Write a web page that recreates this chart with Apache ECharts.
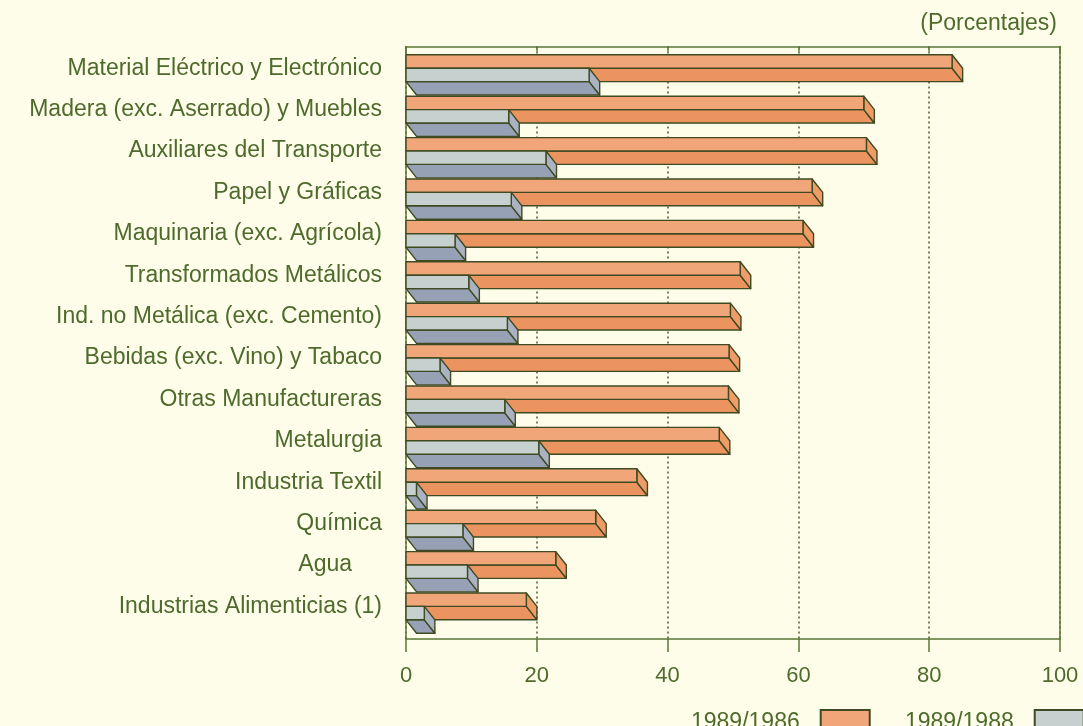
<!DOCTYPE html>
<html>
<head>
<meta charset="utf-8">
<script src="https://cdn.jsdelivr.net/npm/echarts@6/dist/echarts.min.js"></script>
<style>
html,body{margin:0;padding:0;background:#fdfde9;}
#chart{width:1083px;height:726px;}
</style>
</head>
<body>
<div id="chart"></div>
<script>
const categories = [
  'Material Eléctrico y Electrónico',
  'Madera (exc. Aserrado) y Muebles',
  'Auxiliares del Transporte',
  'Papel y Gráficas',
  'Maquinaria (exc. Agrícola)',
  'Transformados Metálicos',
  'Ind. no Metálica (exc. Cemento)',
  'Bebidas (exc. Vino) y Tabaco',
  'Otras Manufactureras',
  'Metalurgia',
  'Industria Textil',
  'Química',
  'Agua',
  'Industrias Alimenticias (1)'
];
const seriesNames = ['1989/1986', '1989/1988'];
const v1989_1986 = [83.5, 70.0, 70.4, 62.1, 60.7, 51.1, 49.6, 49.4, 49.3, 47.9, 35.3, 29.0, 22.9, 18.4];
const v1989_1988 = [28.0, 15.7, 21.4, 16.1, 7.5, 9.6, 15.5, 5.2, 15.1, 20.3, 1.6, 8.7, 9.4, 2.8];
const xMin = 0, xMax = 100, xStep = 20;

const FONT = 'Liberation Sans, Arial, sans-serif';
const TEXT = '#4e6a2c';
const AXIS = '#5b7636';
const EDGE = '#3f4a22';

const palettes = [
  { front: '#f0a678', bottom: '#eb945f', side: '#ee9c68' },
  { front: '#c6d0ce', bottom: '#97a1b6', side: '#abb3c2' }
];

function boxRenderer(pal, offset) {
  return function (params, api) {
    const val = api.value(0), idx = api.value(1);
    const base = api.coord([0, idx]);
    const end = api.coord([val, idx]);
    const band = api.size([0, 1])[1];
    const h = band * 0.324;
    const dx = band * 0.255;
    const x0 = base[0], x1 = end[0];
    const yt = base[1] + offset * h;
    const yb = yt + h, yz = yb + h;
    const st = { stroke: EDGE, lineWidth: 1.4, lineJoin: 'round' };
    return {
      type: 'group',
      children: [
        { type: 'polygon', shape: { points: [[x0, yb], [x1, yb], [x1 + dx, yz], [x0 + dx, yz]] },
          style: Object.assign({ fill: pal.bottom }, st) },
        { type: 'polygon', shape: { points: [[x1, yt], [x1 + dx, yb], [x1 + dx, yz], [x1, yb]] },
          style: Object.assign({ fill: pal.side }, st) },
        { type: 'rect', shape: { x: x0, y: yt, width: x1 - x0, height: h },
          style: Object.assign({ fill: pal.front }, st) }
      ]
    };
  };
}

function legendFor(name, left) {
  return {
    data: [name],
    left: left, top: 704,
    align: 'right',
    icon: 'rect',
    itemWidth: 49, itemHeight: 26,
    textStyle: { color: TEXT, fontSize: 23, padding: [0, 16, 8, 0], fontFamily: FONT }
  };
}

const chart = echarts.init(document.getElementById('chart'), null, { renderer: 'canvas' });
const gridLeft = 406, gridRight = 23;
chart.setOption({
  backgroundColor: '#fdfde9',
  animation: false,
  textStyle: { fontFamily: FONT },
  graphic: [{
    type: 'text', right: 26, top: 12,
    style: { text: '(Porcentajes)', fill: TEXT, fontSize: 23, fontFamily: FONT }
  }],
  legend: [legendFor(seriesNames[0], 686), legendFor(seriesNames[1], 900)],
  grid: [
    { left: gridLeft, right: gridRight, top: 46.5, bottom: 87 },
    { left: gridLeft, right: gridRight, top: 47.5, height: 579.6 }
  ],
  xAxis: [
    {
      gridIndex: 0, type: 'value', min: xMin, max: xMax, interval: xStep, position: 'bottom',
      axisLine: { show: true, onZero: false, lineStyle: { color: AXIS, width: 1.5 } },
      axisTick: { show: true, length: 13, lineStyle: { color: AXIS, width: 1.5 } },
      axisLabel: { color: TEXT, fontSize: 22, margin: 26 },
      splitLine: { show: true, lineStyle: { color: '#56633a', width: 1.6, type: [2, 3] } }
    },
    {
      gridIndex: 0, type: 'value', min: xMin, max: xMax, interval: xStep, position: 'top',
      axisLine: { show: true, onZero: false, lineStyle: { color: AXIS, width: 1.5 } },
      axisTick: { show: true, inside: true, length: 5, lineStyle: { color: AXIS, width: 1.5 } },
      axisLabel: { show: false },
      splitLine: { show: false }
    },
    {
      gridIndex: 1, type: 'value', min: xMin, max: xMax, show: false
    }
  ],
  yAxis: [
    {
      gridIndex: 0, type: 'value', min: 0, max: 1, position: 'left',
      axisLine: { show: true, onZero: false, lineStyle: { color: AXIS, width: 1.5 } },
      axisTick: { show: false }, axisLabel: { show: false }, splitLine: { show: false }
    },
    {
      gridIndex: 0, type: 'value', min: 0, max: 1, position: 'right',
      axisLine: { show: true, onZero: false, lineStyle: { color: AXIS, width: 1.5 } },
      axisTick: { show: false }, axisLabel: { show: false }, splitLine: { show: false }
    },
    {
      gridIndex: 1, type: 'category', inverse: true, data: categories,
      axisLine: { show: false }, axisTick: { show: false }, splitLine: { show: false },
      axisLabel: {
        color: TEXT, fontSize: 23, margin: 24, interval: 0,
        formatter: function (v) { return v === 'Agua' ? '{pad|' + v + '}' : v; },
        rich: { pad: { color: TEXT, fontSize: 23, padding: [0, 30, 0, 0] } }
      }
    }
  ],
  series: [
    {
      name: seriesNames[0], type: 'custom', xAxisIndex: 2, yAxisIndex: 2,
      itemStyle: { color: palettes[0].front, borderColor: EDGE, borderWidth: 1.4 },
      renderItem: boxRenderer(palettes[0], -1),
      encode: { x: 0, y: 1 },
      data: v1989_1986.map((v, i) => [v, i])
    },
    {
      name: seriesNames[1], type: 'custom', xAxisIndex: 2, yAxisIndex: 2,
      itemStyle: { color: palettes[1].front, borderColor: EDGE, borderWidth: 1.4 },
      renderItem: boxRenderer(palettes[1], 0),
      encode: { x: 0, y: 1 },
      data: v1989_1988.map((v, i) => [v, i])
    }
  ]
});
</script>
</body>
</html>
